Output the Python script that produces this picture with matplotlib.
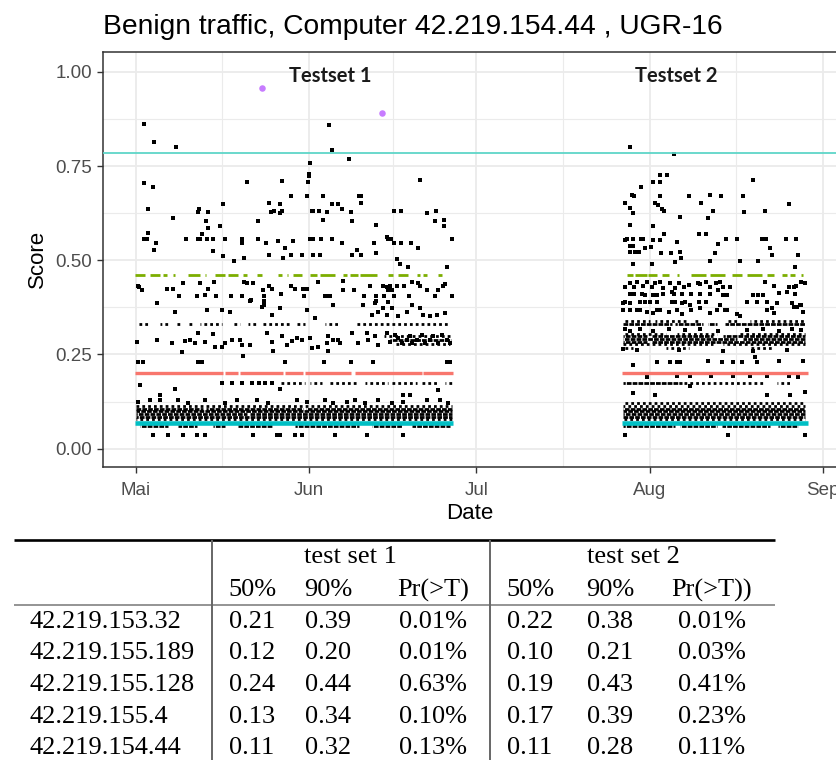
import matplotlib
matplotlib.use("Agg")
import matplotlib.dates as mdates
import matplotlib.pyplot as plt
import numpy as np
import pandas as pd
from matplotlib.ticker import FixedLocator, FormatStrFormatter

# ---- chart data (days after 2016-05-01, score) -------------------------------
START = pd.Timestamp("2016-05-01")
MONTH_STARTS = pd.date_range("2016-05-01", "2016-09-01", freq="MS")
MONTH_LABELS = ["Mai", "Jun", "Jul", "Aug", "Sep"]
Y_TICKS = [0.0, 0.25, 0.50, 0.75, 1.00]
THRESHOLD = 0.785

TS1_HIGH = [
    (1.54, .863), (3.28, .813), (7.22, .800), (34.55, .859), (35.15, .792), (38.25, .770),
    (31.2, .757), (30.95, .730), (30.95, .724),
    (1.55, .704), (3.04, .695), (2.15, .636), (19.87, .708), (26.14, .711), (30.92, .707),
    (50.91, .712), (27.75, .670), (30.62, .670), (33.48, .670), (40.0, .670), (40.35, .670),
    (40.35, .653), (23.87, .653), (25.84, .649), (15.70, .649), (11.10, .629), (11.40, .636),
    (12.89, .627), (6.62, .611), (24.17, .629), (24.77, .632), (25.84, .625), (26.14, .632),
    (31.51, .632), (31.81, .632), (32.89, .632), (34.32, .627), (35.21, .649), (36.29, .649),
    (36.88, .636), (38.56, .627), (33.48, .607), (38.79, .603), (46.31, .632), (47.51, .632),
    (52.10, .625), (53.71, .632),
    (12.59, .603), (12.89, .587), (15.10, .591), (21.84, .603), (43.03, .595), (53.60, .603),
    (55.21, .607), (55.21, .591), (2.27, .572), (1.55, .557), (1.97, .557), (3.58, .545),
    (3.34, .527), (8.95, .557), (11.10, .557), (11.52, .557), (11.82, .570), (12.71, .557),
    (13.91, .557), (16.0, .557), (18.98, .557), (19.10, .545), (21.84, .557), (23.28, .545),
    (25.54, .552), (28.11, .552), (31.21, .557), (31.51, .557), (31.81, .557), (33.18, .557),
    (35.09, .557), (36.88, .545), (42.73, .545), (44.94, .561), (45.24, .557), (45.66, .557),
    (46.31, .545), (47.51, .545), (49.24, .545), (50.61, .532), (56.58, .557),
    (13.91, .524), (15.70, .511), (17.67, .499), (19.40, .506), (23.87, .515), (26.44, .506),
    (26.74, .532), (27.81, .515), (29.72, .515), (31.81, .515), (33.0, .515), (38.79, .515),
    (39.69, .527), (40.29, .515), (43.03, .519), (46.73, .503), (47.33, .490), (48.70, .481),
    (55.68, .481),
]

TS1_MID = [
    (0.36, .433), (0.6, .428), (1.19, .420), (5.55, .424), (6.74, .424), (8.42, .440),
    (11.52, .440), (13.01, .424), (14.09, .443), (7.82, .406), (10.92, .406), (12.41, .409),
    (14.32, .406), (17.07, .406), (19.10, .406), (19.46, .443), (19.9, .440), (21.07, .440),
    (20.47, .393), (22.86, .420), (23.04, .393), (23.04, .382), (23.04, .406), (23.87, .433),
    (24.35, .424), (26.02, .411), (27.75, .433), (28.53, .424), (30.02, .424), (30.32, .424),
    (30.62, .424), (30.14, .406), (32.59, .443), (33.90, .406), (34.20, .406), (34.80, .406),
    (35.39, .382), (37.06, .422), (37.06, .446), (39.15, .422), (40.88, .406), (40.76, .380),
    (41.96, .433), (42.97, .406), (43.03, .393), (44.23, .433), (44.52, .406), (44.94, .428),
    (45.24, .422), (45.84, .422), (45.54, .433), (46.31, .406), (46.85, .433), (48.10, .433),
    (49.0, .406), (49.54, .442), (50.61, .440), (50.91, .433), (52.10, .422), (53.60, .406),
    (54.19, .420), (55.09, .433), (55.39, .436), (56.58, .406),
    (3.76, .386), (7.04, .364), (12.71, .367), (15.40, .367), (16.89, .364), (20.65, .395),
    (22.68, .377), (24.35, .355), (25.84, .373), (30.62, .367), (32.11, .346), (35.39, .382),
    (40.76, .382), (42.85, .386), (43.45, .364), (44.34, .373), (45.24, .390), (45.84, .373),
    (47.03, .351), (48.52, .364), (49.42, .382), (50.91, .373), (51.51, .355), (52.70, .351),
    (53.89, .355), (55.39, .360), (42.26, .355), (44.94, .355),
    (0.18, .283), (3.76, .289), (6.45, .280), (8.83, .287), (9.73, .289), (10.62, .280),
    (11.22, .307), (12.41, .284), (13.91, .305), (14.2, .271), (15.4, .271), (16.0, .280),
    (17.19, .289), (18.68, .289), (18.98, .276), (20.47, .276), (23.46, .307), (24.35, .284),
    (26.14, .298), (27.04, .276), (27.93, .287), (28.83, .293), (29.72, .289), (31.21, .293),
    (31.51, .267), (32.71, .271), (34.2, .280), (34.5, .298), (35.39, .289), (36.29, .289),
    (36.59, .280), (38.67, .307), (39.87, .280), (41.36, .307), (41.66, .289), (42.85, .298),
    (43.45, .276), (44.94, .307), (45.54, .284), (46.43, .302), (47.03, .293), (47.63, .280),
    (48.52, .289), (49.12, .298), (49.42, .280), (50.31, .289), (51.21, .302), (51.81, .280),
    (52.70, .289), (53.30, .298), (54.19, .280), (54.79, .302), (55.68, .289), (56.28, .280),
]

TS1_LOW = [
    (8.36, .256), (24.65, .258), (34.5, .258), (0.36, .230), (1.37, .231), (11.22, .230),
    (11.82, .230), (19.28, .245), (26.74, .229), (33.78, .229), (38.56, .229), (42.44, .231),
    (55.68, .230), (56.28, .231),
    (0.78, .170), (7.04, .158), (25.84, .158), (4.36, .143), (47.93, .143), (49.12, .143),
    (54.19, .156), (15.4, .174), (17.2, .174), (19.0, .174), (20.8, .174), (22.0, .174),
    (23.2, .174), (24.4, .174),
    (0.48, .125), (2.57, .130), (4.36, .130), (7.64, .130), (9.43, .121), (12.41, .130),
    (16.0, .121), (18.08, .130), (21.67, .130), (23.75, .121), (28.83, .130), (30.62, .125),
    (33.9, .130), (35.39, .121), (37.78, .125), (39.27, .130), (41.06, .121), (43.45, .130),
    (45.84, .121), (47.93, .125), (52.1, .130), (54.49, .130), (55.98, .121),
    (3.16, .035), (5.85, .035), (8.53, .035), (10.92, .035), (12.41, .035), (21.07, .035),
    (25.25, .035), (25.84, .035), (28.53, .035), (29.7, .035), (35.69, .035), (41.36, .035),
    (47.93, .035),
]

TS2_HIGH = [
    (88.5, .801), (96.3, .782), (92.7, .708), (93.9, .708), (93.8, .726), (95.2, .726),
    (90.4, .695), (110.5, .713), (88.8, .674), (89.2, .672), (93.9, .670), (99.1, .670),
    (102.8, .673), (104.8, .670), (108.8, .670), (87.6, .651), (88.5, .638), (89.0, .625),
    (93.0, .651), (93.6, .647), (94.2, .635), (94.6, .631), (101.3, .651), (103.3, .632),
    (109.0, .629), (112.7, .632), (117.0, .649), (97.5, .616), (102.5, .611), (88.5, .594),
    (92.7, .591), (94.6, .569), (100.9, .570), (102.2, .570), (87.6, .554), (88.0, .557),
    (89.1, .556), (90.4, .557), (90.9, .556), (92.7, .554), (88.5, .538), (89.1, .538),
    (91.2, .532), (92.2, .536), (93.9, .554), (97.0, .549), (104.2, .543), (105.7, .557),
    (107.6, .557), (112.1, .557), (112.9, .557), (116.4, .557), (118.2, .557), (113.6, .532),
    (113.9, .514), (118.6, .514), (88.5, .521), (89.4, .521), (90.2, .523), (94.1, .519),
    (95.8, .520), (97.5, .523), (97.6, .505), (96.6, .496), (102.8, .499), (103.7, .519),
    (108.2, .499), (111.5, .499), (118.1, .481), (89.0, .490), (92.4, .490),
]

TS2_MID = [
    (87.6, .430), (88.5, .439), (89.2, .430), (89.7, .443), (90.9, .431), (91.5, .443),
    (92.4, .430), (93.0, .439), (93.9, .443), (94.5, .426), (95.7, .439), (96.6, .426),
    (97.2, .439), (98.1, .430), (99.1, .434), (100.6, .440), (101.0, .437), (102.2, .443),
    (102.8, .430), (103.9, .439), (104.6, .443), (105.2, .430), (106.4, .430), (112.7, .443),
    (114.3, .432), (116.9, .430), (117.8, .430), (118.2, .432), (119.2, .443), (119.8, .439),
    (88.5, .411), (89.2, .411), (90.6, .411), (91.2, .408), (92.7, .408), (93.3, .408),
    (94.5, .411), (96.0, .417), (96.3, .411), (97.8, .411), (99.4, .411), (101.0, .411),
    (102.8, .411), (104.3, .420), (105.2, .408), (105.8, .408), (110.6, .408), (111.5, .408),
    (112.4, .408), (115.1, .413), (116.6, .417), (118.1, .411),
    (87.3, .386), (87.6, .390), (88.5, .386), (90.3, .390), (91.2, .390), (92.1, .390),
    (93.3, .390), (96.0, .390), (96.6, .390), (97.8, .386), (98.4, .389), (99.3, .382),
    (100.9, .389), (102.2, .389), (104.6, .382), (105.8, .368), (109.4, .390), (111.2, .390),
    (113.0, .390), (114.8, .386), (117.5, .386), (118.4, .377), (119.2, .380),
    (87.3, .367), (88.5, .367), (89.7, .367), (90.3, .367), (91.5, .364), (92.7, .360),
    (93.3, .367), (93.9, .367), (95.4, .364), (96.9, .367), (97.8, .358), (99.5, .367),
    (101.0, .373), (102.8, .360), (104.0, .367), (105.5, .367), (107.6, .358), (108.2, .353),
    (113.0, .368), (113.9, .373), (114.2, .360), (117.8, .377), (118.9, .380), (119.5, .364),
    (87.6, .318), (88.5, .312), (90.3, .318), (92.7, .312), (95.4, .318), (98.4, .315),
    (101.0, .318), (104.3, .312), (109.4, .316), (112.4, .318), (115.1, .312), (117.5, .318),
    (119.2, .314),
]

TS2_LOW = [
    (87.3, .265), (89.7, .262), (97.2, .262), (105.2, .260), (110.6, .258), (116.6, .262),
    (89.1, .223), (93.3, .229), (95.7, .229), (96.9, .229), (97.5, .229), (102.5, .233),
    (104.9, .229), (107.0, .229), (108.5, .229), (110.8, .244), (111.2, .229), (115.1, .233),
    (119.5, .233),
    (91.5, .190), (96.9, .193), (99.3, .192), (103.0, .192), (107.0, .192), (110.0, .192),
    (113.0, .192), (117.0, .192), (118.5, .190), (99.3, .165),
    (89.1, .148), (93.0, .143), (113.0, .143), (117.2, .143), (119.8, .150),
    (87.6, .036), (106.1, .036), (119.8, .036),
]

# runs of back-to-back black points: (first day, last day, score)
RUNS_DENSE = [
    (0.0, 12.0, .106), (12.6, 30.0, .106), (30.5, 56.6, .106), (0.0, 56.6, .099),
    (0.0, 20.0, .092), (20.5, 56.6, .092), (0.0, 56.6, .085),
    (0.8, 5.8, .059), (7.6, 10.9, .059), (13.9, 16.0, .059), (18.4, 24.4, .059),
    (28.5, 39.9, .059), (42.3, 47.6, .059), (49.4, 56.3, .059),
    (45.5, 56.5, .289),
    (87.3, 96.0, .330), (96.6, 101.5, .330), (102.5, 104.0, .330), (105.5, 119.8, .330),
    (87.3, 91.5, .298), (92.4, 103.4, .298), (105.2, 119.8, .298),
    (87.3, 107.6, .291), (108.8, 119.8, .291), (87.3, 91.5, .284), (92.4, 119.8, .284),
    (87.3, 97.8, .174),
    (87.3, 119.8, .106), (87.3, 119.8, .099), (87.3, 119.8, .092), (87.3, 119.8, .085),
    (87.3, 96.5, .060), (97.5, 104.0, .060), (105.0, 113.5, .060), (115.0, 118.5, .060),
]
RUNS_SPARSE = [
    (0.0, 56.6, .113), (0.0, 56.6, .078),
    (0.2, 2.6, .330), (4.4, 6.0, .330), (7.2, 8.0, .330), (9.5, 10.5, .330),
    (11.5, 15.4, .330), (17.2, 18.6, .330), (20.2, 21.6, .330), (22.6, 27.6, .330),
    (28.8, 30.3, .330), (33.9, 36.3, .330), (39.3, 56.3, .330),
    (44.5, 56.5, .300), (46.5, 56.3, .279),
    (26.1, 30.3, .174), (31.2, 33.3, .174), (34.5, 39.9, .174), (41.1, 45.2, .174),
    (45.8, 50.3, .174), (51.2, 53.9, .174), (55.4, 56.6, .174),
    (87.3, 92.0, .340), (93.0, 99.0, .340), (100.0, 101.0, .340), (106.0, 108.0, .340),
    (110.0, 119.8, .340),
    (87.3, 95.0, .305), (97.0, 104.0, .305), (108.0, 119.8, .305),
    (87.3, 103.4, .277), (105.2, 119.8, .277), (87.3, 89.0, .268), (95.0, 99.0, .268),
    (110.0, 114.0, .268),
    (98.1, 112.4, .174), (114.8, 117.2, .174),
    (87.3, 119.8, .122), (87.3, 119.8, .114), (87.3, 119.8, .078),
]

# summary lines per test period
Q90_LEVEL = 0.461
Q90_RUNS = [
    (-0.1, 1.67), (2.57, 4.36), (4.95, 5.55), (6.74, 7.04), (9.43, 11.52), (12.41, 12.6),
    (14.2, 16.0), (16.59, 18.38), (19.28, 19.87), (21.67, 22.56), (25.54, 26.14),
    (27.04, 27.33), (28.23, 29.72), (31.21, 32.41), (33.0, 35.69), (37.18, 37.78),
    (38.38, 39.87), (40.17, 43.15), (45.24, 46.14), (47.03, 48.82), (50.31, 50.91),
    (51.51, 52.10), (54.19, 54.79),
    (87.9, 89.1), (89.4, 91.5), (91.8, 93.3), (94.2, 95.4), (96.9, 97.2), (99.5, 102.2),
    (102.8, 105.5), (106.7, 108.5), (109.4, 112.1), (113.0, 114.2), (115.7, 116.6),
    (117.2, 118.1), (119.2, 119.5),
]
MEDIAN_LEVEL = 0.2005
MEDIAN_RUNS = [
    (-0.1, 15.6), (16.0, 18.3), (18.7, 26.4), (26.8, 30.0), (30.4, 38.6), (39.3, 51.2),
    (51.5, 56.9), (87.0, 120.4),
]
LOW_LEVEL = 0.068
LOW_RUNS = [(-0.2, 56.9), (87.0, 120.4)]

ALERT_DAYS = [22.67, 44.16]
ALERT_SCORES = [0.9586, 0.8914]

# ---- table data ---------------------------------------------------------------
HOSTS = ["42.219.153.32", "42.219.155.189", "42.219.155.128", "42.219.155.4", "42.219.154.44"]
TS1_MEDIAN = [0.21, 0.12, 0.24, 0.13, 0.11]
TS1_Q90 = [0.39, 0.20, 0.44, 0.34, 0.32]
TS1_EXCEED = [0.01, 0.01, 0.63, 0.10, 0.13]
TS2_MEDIAN = [0.22, 0.10, 0.19, 0.17, 0.11]
TS2_Q90 = [0.38, 0.21, 0.43, 0.39, 0.28]
TS2_EXCEED = [0.01, 0.03, 0.41, 0.23, 0.11]
GROUP_HEADERS = ["test set 1", "test set 2"]
SUB_HEADERS = ["50%", "90%", "Pr(>T)", "50%", "90%", "Pr(>T))"]


def to_x(days):
    return mdates.date2num(START) + np.asarray(days, dtype=float)


def draw_runs(ax, runs, **kw):
    r = np.asarray(runs, dtype=float)
    ax.hlines(r[:, 2], to_x(r[:, 0]), to_x(r[:, 1]), **kw)


def draw_level(ax, level, runs, **kw):
    r = np.asarray(runs, dtype=float)
    ax.hlines(np.full(len(r), level), to_x(r[:, 0]), to_x(r[:, 1]), **kw)


W, H = 837, 760
plt.rcParams["font.family"] = ["Liberation Sans", "DejaVu Sans"]
fig = plt.figure(figsize=(W / 100, H / 100), dpi=100)
fig.patch.set_facecolor("white")

# plot panel (its right edge runs past the picture, as in the source)
ax = fig.add_axes([103 / W, 1 - 466.7 / H, 742 / W, 414.7 / H])

for pts in (TS1_HIGH, TS1_MID, TS1_LOW, TS2_HIGH, TS2_MID, TS2_LOW):
    p = np.asarray(pts, dtype=float)
    ax.scatter(to_x(p[:, 0]), p[:, 1], s=5, marker="s", c="black", linewidths=0, zorder=2)

# shift the dot phase from run to run so stacked runs look speckled, not striped
dense_styles = [(ph, (1.7, 0.4)) for ph in (0.0, 0.9, 1.6, 0.4, 1.25)]
sparse_styles = [(ph, (1, 1.1)) for ph in (0.0, 0.7, 1.4, 0.35, 1.75)]
draw_runs(ax, RUNS_DENSE, colors="black", linewidth=2.0, linestyles=dense_styles, zorder=2)
draw_runs(ax, RUNS_SPARSE, colors="black", linewidth=2.0, linestyles=sparse_styles, zorder=2)

ax.axhline(THRESHOLD, color="#5ED6C8", linewidth=1.3, zorder=3)
draw_level(ax, Q90_LEVEL, Q90_RUNS, colors="#7CAE00", linewidth=2.0, zorder=3)
draw_level(ax, MEDIAN_LEVEL, MEDIAN_RUNS, colors="#F8766D", linewidth=2.4, zorder=3)
draw_level(ax, LOW_LEVEL, LOW_RUNS, colors="#00BFC4", linewidth=3.3, zorder=3)
ax.scatter(to_x(ALERT_DAYS), ALERT_SCORES, s=22, c="#C77CFF", linewidths=0, zorder=4)

ax.text(to_x(34.8), 0.99, "Testset 1", family="Lato", fontweight="bold", fontsize=14.5,
        ha="center", va="center", color="#1a1a1a")
ax.text(to_x(96.7), 0.989, "Testset 2", family="Lato", fontweight="bold", fontsize=14.5,
        ha="center", va="center", color="#1a1a1a")

ax.set_xlim(to_x(-5.85), to_x(127.0))
ax.set_ylim(-0.048, 1.053)
major_x = mdates.date2num(MONTH_STARTS)
ax.xaxis.set_major_locator(FixedLocator(major_x))
ax.xaxis.set_minor_locator(FixedLocator((major_x[:-1] + major_x[1:]) / 2))
ax.set_xticklabels(MONTH_LABELS)
ax.yaxis.set_major_locator(FixedLocator(Y_TICKS))
ax.yaxis.set_minor_locator(FixedLocator([0.125, 0.375, 0.625, 0.875]))
ax.yaxis.set_major_formatter(FormatStrFormatter("%.2f"))

ax.set_axisbelow(True)
ax.grid(which="major", color="#EBEBEB", linewidth=1.3)
ax.grid(which="minor", color="#EBEBEB", linewidth=0.8)
ax.tick_params(which="major", length=4, width=1.0, color="#333333", labelsize=13.5,
               labelcolor="#4D4D4D")
ax.tick_params(axis="x", which="major", pad=7)
ax.tick_params(axis="y", which="major", pad=4)
ax.tick_params(which="minor", length=0)
for sp in ax.spines.values():
    sp.set_color("#333333")
    sp.set_linewidth(1.1)

ax.set_xlabel("Date", fontsize=16)
ax.set_ylabel("Score", fontsize=16)
ax.xaxis.set_label_coords((470 - 103) / 742, (466.7 - 503) / 414.7)
ax.yaxis.set_label_coords((48 - 103) / 742, 0.5)

fig.text(103 / W, 1 - 27 / H, "Benign traffic, Computer 42.219.154.44 , UGR-16",
         fontsize=20.3, ha="left", va="center", color="black")

# ---- results table under the chart --------------------------------------------
tab = fig.add_axes([0, 0, 1, 1], zorder=-1)
tab.set_xlim(0, W)
tab.set_ylim(H, 0)
tab.axis("off")

serif = ["Liberation Serif", "DejaVu Serif"]
tab.hlines(540, 14, 775, color="black", linewidth=1.9)
tab.hlines(605, 14, 775, color="#777777", linewidth=1.1)
tab.vlines([212, 490], 540, H, color="#666666", linewidth=1.4)

for label, cx in zip(GROUP_HEADERS, [350, 633]):
    tab.text(cx, 557, label, family=serif, fontsize=19, ha="center", va="center")

col_x = [252, 328, 433, 530, 610, 712]
for label, cx in zip(SUB_HEADERS, col_x):
    tab.text(cx, 590, label, family=serif, fontsize=19, ha="center", va="center")

row_y = [622, 653, 685, 717, 748]
for i, host in enumerate(HOSTS):
    y = row_y[i]
    tab.text(30, y, host, family=serif, fontsize=19, ha="left", va="center")
    cells = [f"{TS1_MEDIAN[i]:.2f}", f"{TS1_Q90[i]:.2f}", f"{TS1_EXCEED[i]:.2f}%",
             f"{TS2_MEDIAN[i]:.2f}", f"{TS2_Q90[i]:.2f}", f"{TS2_EXCEED[i]:.2f}%"]
    for txt, cx in zip(cells, col_x):
        tab.text(cx, y, txt, family=serif, fontsize=19, ha="center", va="center")

fig.savefig("out.png", dpi=100, facecolor="white")
